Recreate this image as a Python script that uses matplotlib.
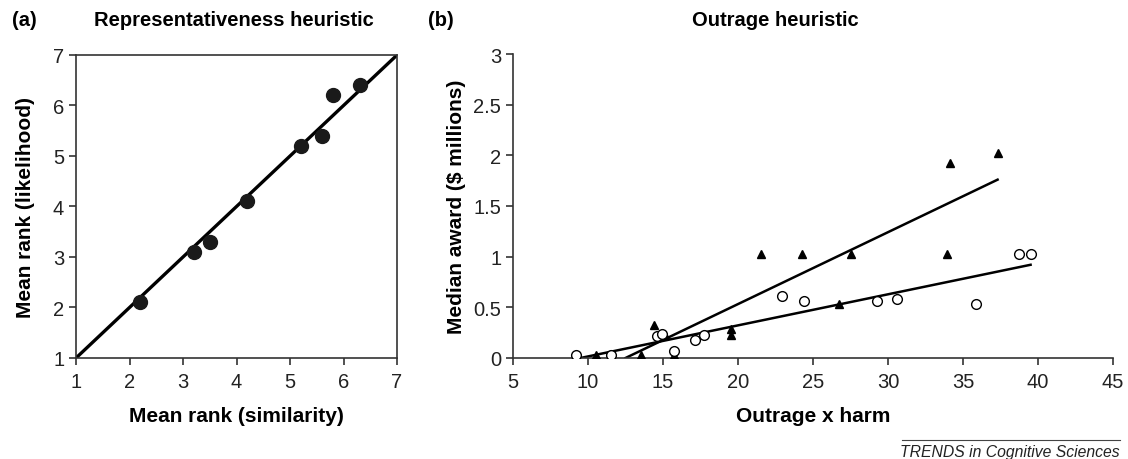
import numpy as np
import matplotlib
matplotlib.use("Agg")
import matplotlib.pyplot as plt

plt.rcParams["font.family"] = ["Liberation Sans", "DejaVu Sans"]

# panel (a): representativeness heuristic
sim_rank = [2.2, 3.2, 3.5, 4.2, 5.2, 5.6, 5.8, 6.3]
lik_rank = [2.1, 3.1, 3.3, 4.1, 5.2, 5.4, 6.2, 6.4]
diag = [1, 7]

# panel (b): outrage heuristic
tri_x = [10.5, 13.5, 14.4, 15.1, 15.75, 19.5, 19.5, 21.5, 24.25, 26.75, 27.5, 33.95, 34.1, 37.3]
tri_y = [0.03, 0.03, 0.33, 0.23, 0.03, 0.29, 0.23, 1.03, 1.03, 0.53, 1.03, 1.03, 1.92, 2.02]
circ_x = [9.2, 11.5, 14.6, 14.9, 15.75, 17.1, 17.7, 22.9, 24.4, 29.25, 30.6, 35.85, 38.75, 39.5]
circ_y = [0.03, 0.03, 0.22, 0.24, 0.07, 0.18, 0.23, 0.61, 0.56, 0.56, 0.585, 0.53, 1.03, 1.03]
tri_fit_x = [12.5, 37.3]
tri_fit_y = [0.0, 1.76]
circ_fit_x = [9.5, 39.5]
circ_fit_y = [0.0, 0.92]

fig = plt.figure(figsize=(11.28, 4.6), dpi=100)
ax1 = fig.add_axes([0.0674, 0.2196, 0.2846, 0.6587])
ax2 = fig.add_axes([0.4548, 0.2196, 0.532, 0.6608])

TICK_FS = 14.5
LABEL_FS = 15

# (a)
ax1.plot(diag, diag, color="black", lw=2.4, zorder=2)
ax1.plot(sim_rank, lik_rank, "o", color="#1a1a1a", ms=10, zorder=3)
ax1.set_xlim(1, 7)
ax1.set_ylim(1, 7)
ax1.set_xticks(range(1, 8))
ax1.set_yticks(range(1, 8))
ax1.set_xlabel("Mean rank (similarity)", fontsize=LABEL_FS, fontweight="bold", labelpad=11)
ax1.set_ylabel("Mean rank (likelihood)", fontsize=LABEL_FS, fontweight="bold", labelpad=13)
for s in ax1.spines.values():
    s.set_linewidth(1.2)
    s.set_color("#333333")
ax1.tick_params(direction="out", length=5, width=1.2, labelsize=TICK_FS, colors="#333333",
                labelcolor="#222222")
ax1.tick_params(axis="x", pad=5)

# (b)
ax2.plot(tri_fit_x, tri_fit_y, color="black", lw=1.8, zorder=2)
ax2.plot(circ_fit_x, circ_fit_y, color="black", lw=1.8, zorder=2)
ax2.plot(tri_x, tri_y, "^", color="black", ms=6, zorder=3)
ax2.plot(circ_x, circ_y, "o", mfc="white", mec="black", mew=1.0, ms=7, zorder=4)
ax2.set_xlim(5, 45)
ax2.set_ylim(0, 3)
ax2.set_xticks(range(5, 46, 5))
ax2.set_yticks([0, 0.5, 1, 1.5, 2, 2.5, 3])
ax2.set_yticklabels(["0", "0.5", "1", "1.5", "2", "2.5", "3"])
ax2.spines["top"].set_visible(False)
ax2.spines["right"].set_visible(False)
for s in ["left", "bottom"]:
    ax2.spines[s].set_linewidth(1.2)
    ax2.spines[s].set_color("#333333")
ax2.tick_params(direction="out", length=5, width=1.2, labelsize=TICK_FS, colors="#333333",
                labelcolor="#222222")
ax2.tick_params(axis="x", pad=5)
ax2.set_xlabel("Outrage x harm", fontsize=LABEL_FS, fontweight="bold", labelpad=11)
ax2.set_ylabel("Median award ($ millions)", fontsize=LABEL_FS, fontweight="bold", labelpad=5)

# titles
fig.text(0.011, 0.955, "(a)", fontsize=14.5, fontweight="bold", va="center")
fig.text(0.207, 0.955, "Representativeness heuristic", fontsize=14.5, fontweight="bold",
         va="center", ha="center")
fig.text(0.379, 0.955, "(b)", fontsize=14.5, fontweight="bold", va="center")
fig.text(0.687, 0.955, "Outrage heuristic", fontsize=14.5, fontweight="bold",
         va="center", ha="center")

# journal footer
fig.add_artist(plt.Line2D([0.8, 0.993], [0.041, 0.041], color="#444444", lw=0.8))
fig.text(0.993, 0.017, "TRENDS in Cognitive Sciences", fontsize=11.3, style="italic",
         ha="right", va="center", color="#222222")

fig.savefig("out.png", dpi=100)
